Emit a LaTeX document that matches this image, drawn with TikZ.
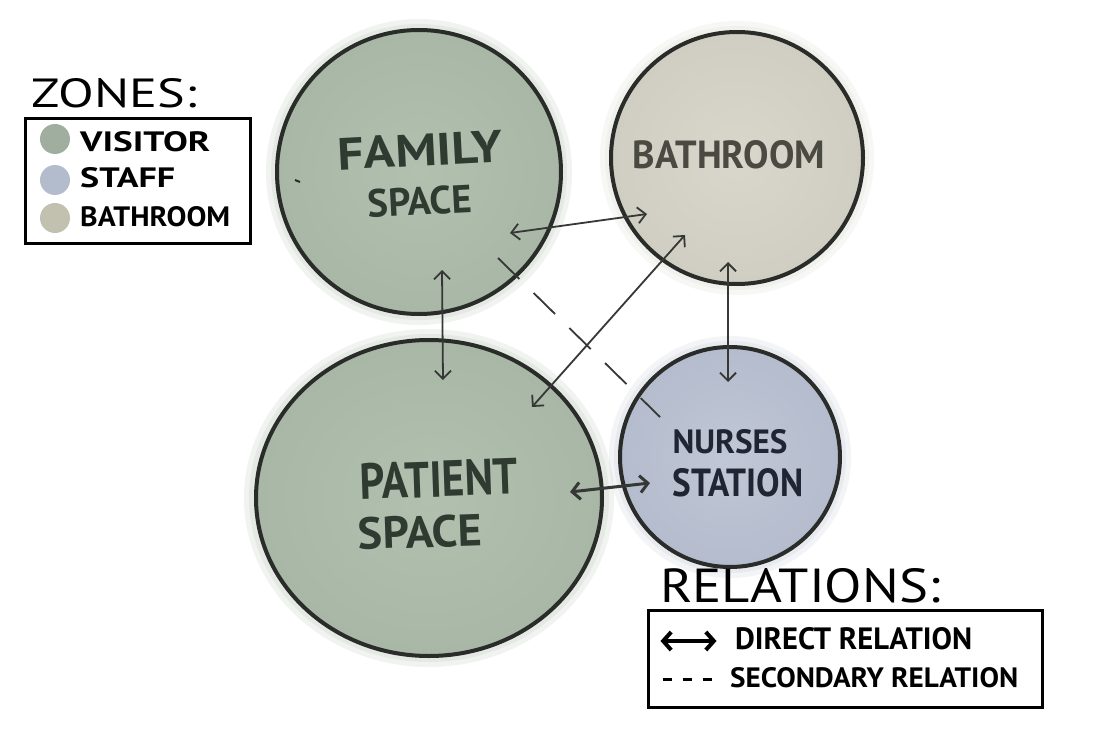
\documentclass[tikz,border=0pt]{standalone}
\usepackage{fontspec}
\setmainfont{PT Sans}
\usetikzlibrary{arrows.meta,calc,shapes.geometric}
\definecolor{visitor}{HTML}{A8B7A6}
\definecolor{visitorin}{HTML}{B2C0B0}
\definecolor{bathc}{HTML}{D0CEC2}
\definecolor{bathin}{HTML}{D9D7CC}
\definecolor{staffc}{HTML}{B4BCCD}
\definecolor{staffin}{HTML}{C0C7D6}
\definecolor{outline}{HTML}{2A2C2A}
\definecolor{arrowc}{HTML}{353835}
\definecolor{greentxt}{HTML}{2F3B30}
\definecolor{bathtxt}{HTML}{4A4A42}
\definecolor{bluetxt}{HTML}{1F2533}
\definecolor{swvis}{HTML}{9FAE9E}
\definecolor{swstaff}{HTML}{B3BCCC}
\definecolor{swbath}{HTML}{C2C1AF}
\newcommand{\myfit}[3]{\resizebox{#1pt}{#2pt}{#3}}
\tikzset{
  zone/.style={draw=outline, line width=4pt, inner sep=0pt},
  halo/.style={opacity=0.16},
  lbl/.style={inner sep=0pt, font=\bfseries},
  legtxt/.style={inner sep=0pt, text=black, font=\bfseries},
  legtitle/.style={inner sep=0pt, text=black},
  legbox/.style={draw=black, line width=3pt},
  rel/.style={draw=arrowc, line width=1.8pt,
    {Straight Barb[length=8pt,width=16pt]}-{Straight Barb[length=8pt,width=16pt]}},
  relbold/.style={draw=arrowc, line width=3pt,
    {Straight Barb[length=8pt,width=17pt]}-{Straight Barb[length=8pt,width=17pt]}},
  secrel/.style={draw=arrowc, line width=1.8pt, dash pattern=on 30pt off 20pt},
}
\begin{document}
\begin{tikzpicture}[x=1pt,y=-1pt]
\useasboundingbox (0,0) rectangle (1101,736);
\fill[white] (0,0) rectangle (1101,736);

% centres
\coordinate (cF) at (419,172);
\coordinate (cB) at (737,158);
\coordinate (cP) at (429,498);
\coordinate (cN) at (730,457);

% soft watercolour halos
\fill[visitor, halo] (cF) circle[radius=153];
\fill[visitor, halo] (cF) circle[radius=148];
\fill[bathc, halo] (cB) circle[radius=137];
\fill[bathc, halo] (cB) circle[radius=132];
\fill[visitor, halo] (cP) ellipse[x radius=185, y radius=169];
\fill[visitor, halo] (cP) ellipse[x radius=180, y radius=164];
\fill[staffc, halo] (cN) circle[radius=121];
\fill[staffc, halo] (cN) circle[radius=116];

% zones
\node[zone, circle, minimum size=284pt, shade, inner color=visitorin, outer color=visitor] (fam) at (cF) {};
\node[zone, circle, minimum size=252pt, shade, inner color=bathin, outer color=bathc] (bath) at (cB) {};
\node[zone, ellipse, minimum width=346pt, minimum height=316pt, shade, inner color=visitorin, outer color=visitor] (pat) at (cP) {};
\node[zone, circle, minimum size=220pt, shade, inner color=staffin, outer color=staffc] (nur) at (cN) {};

% zone labels
\node[lbl, text=greentxt, rotate=3] (famL1) at (420,150) {\myfit{165}{32}{FAMILY}};
\node[lbl, text=greentxt, rotate=3] (famL2) at (420,201) {\myfit{104}{28}{SPACE}};
\node[lbl, text=bathtxt] (bathL) at (729,155) {\myfit{192}{28}{BATHROOM}};
\node[lbl, text=greentxt, rotate=2] (patL1) at (439,479) {\myfit{158}{36}{PATIENT}};
\node[lbl, text=greentxt, rotate=2] (patL2) at (420,532) {\myfit{124}{32}{SPACE}};
\node[lbl, text=bluetxt] (nurL1) at (730,442) {\myfit{115}{24}{NURSES}};
\node[lbl, text=bluetxt] (nurL2) at (738,483) {\myfit{131}{28}{STATION}};

% relation end points
\coordinate (r1a) at ($(fam.center)+(91,61)$);
\coordinate (r1b) at ($(bath.center)+(-90,56)$);
\coordinate (r2a) at ($(pat.center)+(103,-91)$);
\coordinate (r2b) at ($(bath.center)+(-52,77)$);
\coordinate (r3a) at ($(fam.center)+(23,98)$);
\coordinate (r3b) at ($(pat.center)+(14,-118)$);
\coordinate (r4a) at ($(bath.center)+(-9,104)$);
\coordinate (r4b) at ($(nur.center)+(-2,-75)$);
\coordinate (r5a) at ($(pat.center)+(141,-6)$);
\coordinate (r5b) at ($(nur.center)+(-80,26)$);
\coordinate (r6a) at ($(fam.center)+(79,86)$);
\coordinate (r6b) at ($(nur.center)+(-70,-40)$);

% relations
\draw[rel] (r1a) -- (r1b);
\draw[rel] (r2a) -- (r2b);
\draw[rel] (r3a) -- (r3b);
\draw[rel] (r4a) -- (r4b);
\draw[relbold] (r5a) -- (r5b);
\draw[secrel] (r6a) -- (r6b);

% small stray mark
\draw[outline, line width=2pt] (295,180) -- (300,182);

% zones legend
\node[legtitle] (zt) at (114,93) {\myfit{165}{29}{ZONES:}};
\node[legbox, minimum width=225pt, minimum height=125pt, inner sep=0pt] (zbox) at (137.5,180.5) {};
\node[circle, fill=swvis, minimum size=30pt, inner sep=0pt] (sw1) at (55,139) {};
\node[circle, fill=swstaff, minimum size=30pt, inner sep=0pt] (sw2) at (55,180) {};
\node[circle, fill=swbath, minimum size=30pt, inner sep=0pt] (sw3) at (55,218) {};
\node[legtxt, anchor=west] (zl1) at (80,142) {\myfit{130}{20}{VISITOR}};
\node[legtxt, anchor=west] (zl2) at (80,178) {\myfit{95}{20}{STAFF}};
\node[legtxt, anchor=west] (zl3) at (80,217) {\myfit{150}{20}{BATHROOM}};

% relations legend
\node[legtitle] (rt) at (800,586) {\myfit{280}{34}{RELATIONS:}};
\node[legbox, minimum width=394pt, minimum height=97pt, inner sep=0pt] (rbox) at (845,658.5) {};
\coordinate (lg1a) at ($(rbox.west)+(14,-17.5)$);
\coordinate (lg1b) at ($(rbox.west)+(70,-17.5)$);
\coordinate (lg2a) at ($(rbox.west)+(16,21)$);
\coordinate (lg2b) at ($(rbox.west)+(70,21)$);
\draw[draw=black, line width=4pt, {Straight Barb[length=8pt,width=18pt]}-{Straight Barb[length=8pt,width=18pt]}] (lg1a) -- (lg1b);
\draw[draw=black, line width=2.5pt, dash pattern=on 9pt off 11pt] (lg2a) -- (lg2b);
\node[legtxt, anchor=west] (rl1) at (735,639) {\myfit{237}{22}{DIRECT RELATION}};
\node[legtxt, anchor=west] (rl2) at (730,678) {\myfit{288}{20}{SECONDARY RELATION}};
\end{tikzpicture}
\end{document}
